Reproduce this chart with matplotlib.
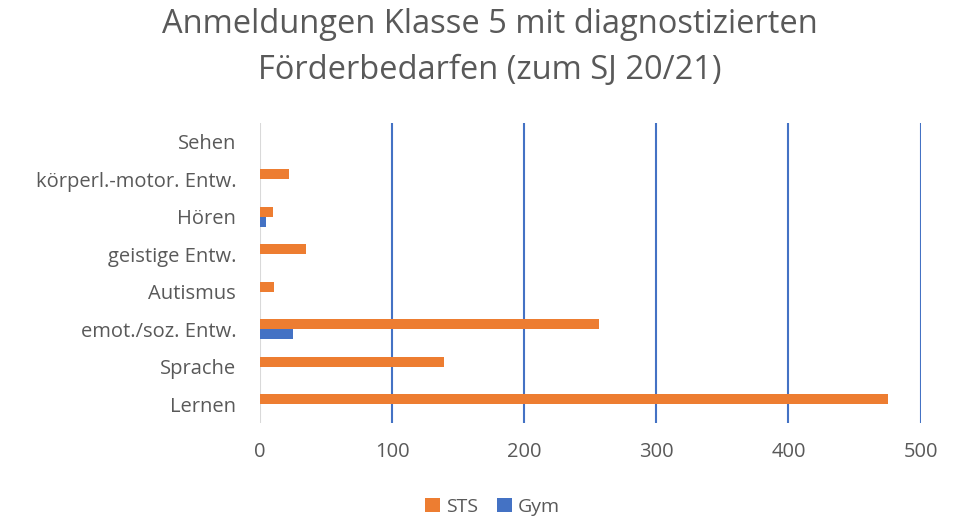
import matplotlib
matplotlib.use("Agg")
import matplotlib.pyplot as plt
import numpy as np

categories = ["Lernen", "Sprache", "emot./soz. Entw.", "Autismus", "geistige Entw.",
              "Hören", "körperl.-motor. Entw.", "Sehen"]
sts = [475, 139, 257, 11, 35, 10, 22, 0]
gym = [0, 0, 25, 0, 0, 5, 0, 0]
xticks = [0, 100, 200, 300, 400, 500]
title = "Anmeldungen Klasse 5 mit diagnostizierten\nFörderbedarfen (zum SJ 20/21)"

plt.rcParams['font.family'] = ['Open Sans', 'DejaVu Sans']
gray = "#595959"
orange = "#ED7D31"
blue = "#4472C4"

W, H = 966, 519
fig = plt.figure(figsize=(W / 100, H / 100), dpi=100)
ax = fig.add_axes([0.269, 0.185, 0.684, 0.578])

y = np.arange(len(categories))
h = 0.27
ax.barh(y + h / 2, sts, height=h, color=orange, label="STS", zorder=3)
ax.barh(y - h / 2, gym, height=h, color=blue, label="Gym", zorder=3)

ax.set_xlim(0, 500)
ax.set_ylim(-0.5, len(categories) - 0.5)
ax.set_xticks(xticks)
ax.set_yticks(y)
ax.set_yticklabels(categories)
for v in xticks[1:]:
    ax.axvline(v, color=blue, lw=1.5, zorder=1)
ax.axvline(0, color="#D9D9D9", lw=1.5, zorder=2)

for s in ax.spines.values():
    s.set_visible(False)
ax.tick_params(axis='both', length=0, labelsize=14.5, labelcolor=gray)
ax.tick_params(axis='x', pad=14)
ax.tick_params(axis='y', pad=17)

# title: two lines, baselines at ~33 px and ~79 px from top
baselines = [33, 79]
for line, b in zip(title.split("\n"), baselines):
    fig.text(0.507, 1 - b / H, line, ha='center', va='baseline', fontsize=23.5,
             color=gray)

handles, labels = ax.get_legend_handles_labels()
leg = fig.legend(handles, labels, loc='center', bbox_to_anchor=(0.51, 0.024), ncol=2,
                 frameon=False, fontsize=14, handlelength=0.75, handleheight=0.75,
                 handletextpad=0.3, columnspacing=1.0)
for t in leg.get_texts():
    t.set_color(gray)

fig.savefig("out.png", dpi=100)
